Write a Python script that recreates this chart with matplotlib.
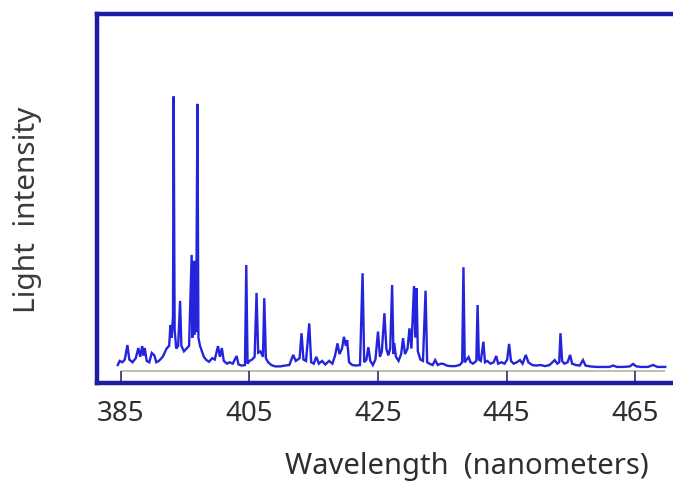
import matplotlib
matplotlib.use("Agg")
import matplotlib.pyplot as plt

# Spectrum polyline vertices (wavelength in nm, relative intensity)
wavelength = [
    384.5, 384.8, 385.2, 385.6, 386.0, 386.3, 386.8, 387.3, 387.7, 388.0,
    388.3, 388.5, 388.7, 389.0, 389.4, 389.8, 390.2, 390.5, 390.9, 391.5,
    392.1, 392.5, 392.7, 392.9, 393.1, 393.2, 393.35, 393.6, 393.9, 394.2,
    394.4, 394.8, 395.2, 395.6, 396.0, 396.1, 396.25, 396.4, 396.55, 396.7,
    396.9, 397.05, 397.3, 397.6, 397.9, 398.3, 398.7, 399.2, 399.6, 400.1,
    400.4, 400.7, 401.0, 401.5, 401.9, 402.4, 403.0, 403.3, 403.8, 404.3,
    404.5, 404.7, 405.0, 405.4, 405.8, 406.1, 406.35, 406.7, 407.1, 407.3,
    407.55, 407.9, 408.4, 409.0, 409.8, 410.5, 411.2, 411.8, 412.2, 412.8,
    413.1, 413.4, 413.8, 414.3, 414.6, 415.0, 415.4, 415.8, 416.3, 416.8,
    417.4, 417.9, 418.3, 418.7, 419.0, 419.4, 419.7, 420.0, 420.2, 420.5,
    421.0, 421.6, 422.2, 422.6, 422.85, 423.2, 423.5, 423.8, 424.2, 424.6,
    425.0, 425.3, 425.6, 426.0, 426.3, 426.6, 426.9, 427.2, 427.4, 427.5,
    427.8, 428.2, 428.6, 428.9, 429.2, 429.6, 429.9, 430.2, 430.6, 430.8,
    431.0, 431.2, 431.6, 432.0, 432.4, 432.65, 433.0, 433.5, 433.9, 434.3,
    434.8, 435.2, 435.7, 436.3, 437.0, 437.7, 438.1, 438.3, 438.5, 438.8,
    439.1, 439.4, 439.8, 440.3, 440.5, 440.7, 441.0, 441.4, 441.65, 442.0,
    442.5, 443.0, 443.4, 443.7, 444.2, 444.7, 445.1, 445.4, 445.7, 446.1,
    446.6, 447.1, 447.5, 448.0, 448.4, 449.0, 449.6, 450.3, 451.0, 451.7,
    452.5, 452.9, 453.2, 453.4, 453.65, 454.0, 454.5, 454.9, 455.2, 455.8,
    456.4, 456.9, 457.3, 458.0, 459.0, 460.0, 461.0, 461.6, 462.2, 463.2,
    464.2, 464.7, 465.2, 466.0, 467.0, 467.8, 468.5, 469.7,
]
intensity = [
    2.0, 3.5, 3.0, 4.0, 9.3, 4.0, 3.0, 4.5, 8.2, 5.0,
    8.9, 5.5, 8.2, 3.5, 3.0, 6.4, 5.5, 3.0, 3.5, 5.0,
    8.0, 9.0, 16.6, 12.0, 20.0, 100.0, 15.0, 8.0, 9.0, 25.4,
    9.0, 7.0, 8.0, 9.0, 42.2, 12.0, 40.0, 13.0, 40.0, 14.0,
    97.3, 12.0, 9.0, 7.0, 5.0, 3.8, 3.2, 4.5, 4.0, 8.9,
    5.0, 8.2, 3.5, 2.5, 3.0, 2.5, 5.3, 2.2, 1.8, 2.0,
    38.5, 2.5, 3.5, 4.0, 5.0, 28.3, 6.5, 7.0, 5.0, 26.4,
    4.5, 3.0, 2.0, 1.5, 1.5, 1.8, 2.0, 5.7, 3.5, 4.5,
    13.6, 4.0, 3.5, 17.2, 3.0, 2.5, 5.0, 2.5, 3.5, 2.2,
    3.5, 2.5, 5.3, 9.9, 6.0, 8.0, 12.3, 9.0, 11.1, 3.0,
    2.0, 1.8, 2.0, 35.5, 3.0, 4.0, 8.5, 3.5, 2.0, 4.0,
    14.2, 5.0, 7.0, 20.9, 8.0, 5.5, 8.0, 31.2, 6.0, 10.0,
    5.0, 3.5, 6.0, 11.8, 6.0, 8.0, 15.4, 8.0, 30.8, 12.0,
    30.0, 7.0, 4.0, 3.5, 29.1, 3.0, 2.5, 2.0, 3.8, 2.0,
    2.5, 2.4, 1.8, 1.6, 1.6, 2.0, 3.0, 37.7, 3.0, 4.0,
    4.9, 3.0, 2.5, 3.5, 23.9, 4.0, 3.5, 10.5, 3.0, 3.5,
    2.5, 3.0, 5.3, 2.5, 3.0, 2.5, 4.0, 9.7, 3.5, 2.5,
    3.0, 3.8, 2.5, 5.7, 3.0, 2.0, 1.8, 2.0, 1.6, 2.0,
    3.8, 2.5, 3.0, 13.6, 3.5, 2.5, 3.0, 5.7, 2.5, 2.0,
    1.8, 3.8, 1.8, 1.5, 1.3, 1.3, 1.3, 1.8, 1.3, 1.3,
    1.5, 2.4, 1.5, 1.3, 1.3, 2.0, 1.3, 1.3,
]
tick_values = [385, 405, 425, 445, 465]
tick_labels = ["385", "405", "425", "445", "465"]
x_label = "Wavelength  (nanometers)"
y_label = "Light  intensity"

FONT = ["Noto Sans", "DejaVu Sans"]
TEXT_COLOR = "#2e2e2e"
FRAME_COLOR = "#1c1ca6"
LINE_COLOR = "#2424dc"

fig = plt.figure(figsize=(6.73, 4.86), dpi=100)
ax = fig.add_axes([97 / 673, 1 - 383 / 486, 1 - 97 / 673, (383 - 14) / 486])

ax.set_xlim(381.27, 470.91)
ax.set_ylim(-4.56, 130.1)

# baseline of the inner spectrum axis
ax.hlines(0, tick_values[0], 469.7, color="#b4b49c", linewidth=1.2, zorder=1)
ax.plot(wavelength, intensity, color=LINE_COLOR, linewidth=1.7,
        solid_joinstyle="miter", zorder=2)

for side in ["left", "top", "bottom"]:
    ax.spines[side].set_color(FRAME_COLOR)
    ax.spines[side].set_linewidth(3.2)
ax.spines["right"].set_visible(False)

ax.set_xticks(tick_values)
ax.set_xticklabels(tick_labels, fontfamily=FONT, fontsize=20, color=TEXT_COLOR)
ax.tick_params(axis="x", direction="in", length=9, width=1.2,
               color="#303064", pad=12)
ax.set_yticks([])

fig.text(467 / 673, 1 - 466 / 486, x_label, fontfamily=FONT, fontsize=21,
         color=TEXT_COLOR, ha="center", va="center")
fig.text(27 / 673, 1 - 210 / 486, y_label, fontfamily=FONT, fontsize=21.5,
         color="#3a3a3a", ha="center", va="center", rotation=90)

fig.savefig("out.png", dpi=100, facecolor="white")
